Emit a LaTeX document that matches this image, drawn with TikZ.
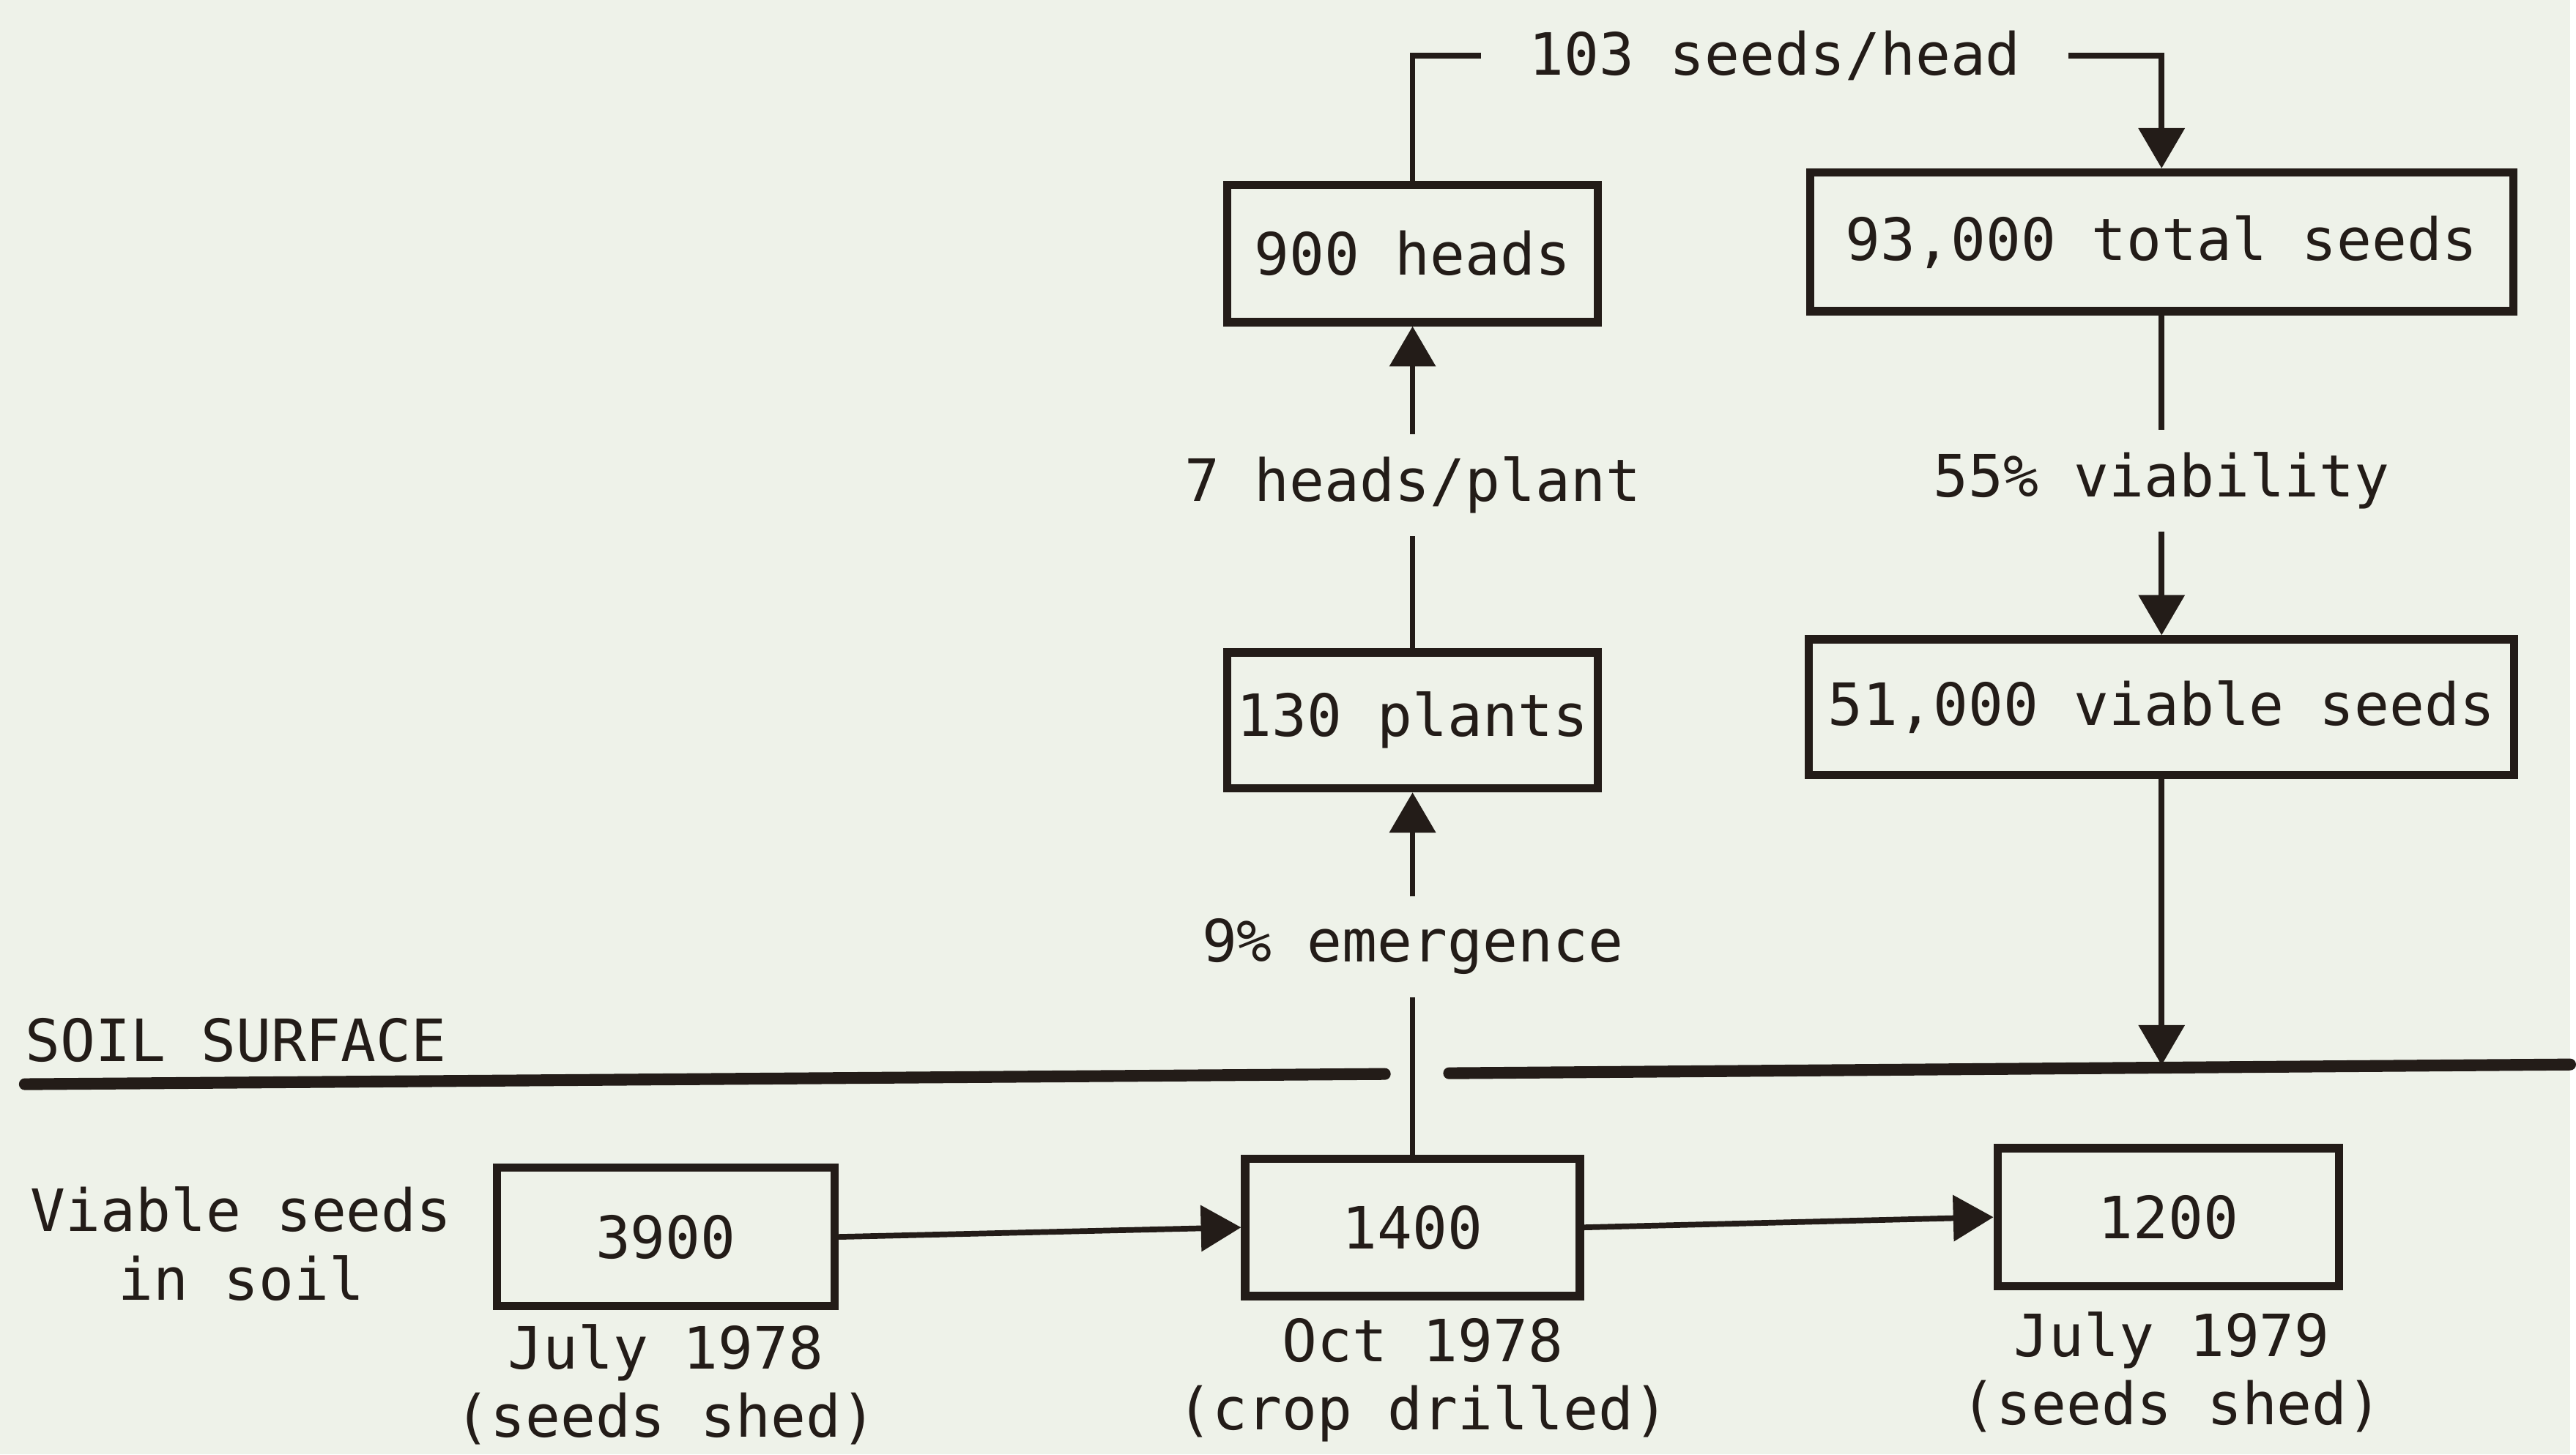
\documentclass[tikz,border=0pt]{standalone}
\usepackage{fontspec}
\setmonofont{DejaVu Sans Mono}
\usetikzlibrary{arrows.meta}
\definecolor{paper}{RGB}{238,242,233}
\definecolor{ink}{RGB}{35,28,24}
\begin{document}
\begin{tikzpicture}[x=1cm,y=1cm,
  every node/.style={font=\ttfamily\fontsize{22.7pt}{26.6pt}\selectfont, text=ink},
  box/.style={draw=ink, line width=3.2pt, inner sep=0pt, minimum height=1.88cm},
  lbl/.style={anchor=base, inner xsep=0.1cm, inner ysep=0.3cm},
  datecap/.style={anchor=north, align=center, inner sep=0pt},
  conn/.style={draw=ink, line width=2.2pt},
  arr/.style={conn, -{Triangle[length=0.55cm,width=0.62cm]}},
  soilline/.style={draw=ink, line width=4.6pt, line cap=round},
]
\path[fill=paper] (0,0) rectangle (35.17,-19.91);

% boxes
\node[box, minimum width=5.07cm] (heads)  at (19.33,-3.47) {900 heads};
\node[box, minimum width=9.62cm, minimum height=1.90cm] (total) at (29.58,-3.31) {93,000 total seeds};
\node[box, minimum width=5.07cm, minimum height=1.86cm] (plants) at (19.33,-9.86) {130 plants};
\node[box, minimum width=9.65cm, minimum height=1.86cm] (viable) at (29.58,-9.68) {51,000 viable seeds};
\node[box, minimum width=4.62cm, minimum height=1.89cm] (b3900) at (9.11,-16.93) {3900};
\node[box, minimum width=4.58cm] (b1400) at (19.33,-16.80) {1400};
\node[box, minimum width=4.67cm, minimum height=1.89cm] (b1200) at (29.67,-16.66) {1200};

% labels on connectors
\node[lbl] (l7)  at (19.33,-6.86) {7 heads/plant};
\node[lbl] (l55) at (29.58,-6.80) {55\% viability};
\node[lbl] (l9)  at (19.33,-13.17) {9\% emergence};
\node[lbl, inner xsep=0.65cm] (l103) at (24.29,-1.03) {103 seeds/head};

% free texts
\node[anchor=base west, inner sep=0pt] (soiltxt) at (0.34,-14.53) {SOIL SURFACE};
\node[datecap] (vs) at (3.30,-16.24) {Viable seeds\\in soil};
\node[datecap] (d1) at (9.11,-18.12) {July 1978\\(seeds shed)};
\node[datecap] (d2) at (19.47,-18.04) {Oct 1978\\(crop drilled)};
\node[datecap] (d3) at (29.72,-17.95) {July 1979\\(seeds shed)};

% soil surface line
\draw[soilline] (0.34,-14.84) -- (18.95,-14.70);
\draw[soilline] (19.83,-14.69) -- (35.17,-14.57);
\coordinate (soilR) at (29.58,-14.58);

% connectors
\draw[conn] (plants.north) -- (l7.south);
\draw[arr]  (l7.north) -- (heads.south);
\draw[conn] (total.south) -- (l55.north);
\draw[arr]  (l55.south) -- (viable.north);
\draw[conn] (b1400.north) -- (l9.south);
\draw[arr]  (l9.north) -- (plants.south);
\draw[conn] (heads.north) |- (l103.west);
\draw[arr]  (l103.east) -| (total.north);
\draw[arr]  (b3900.east) -- (b1400.west);
\draw[arr]  (b1400.east) -- (b1200.west);
\draw[arr]  (viable.south) -- (soilR);
\end{tikzpicture}
\end{document}
